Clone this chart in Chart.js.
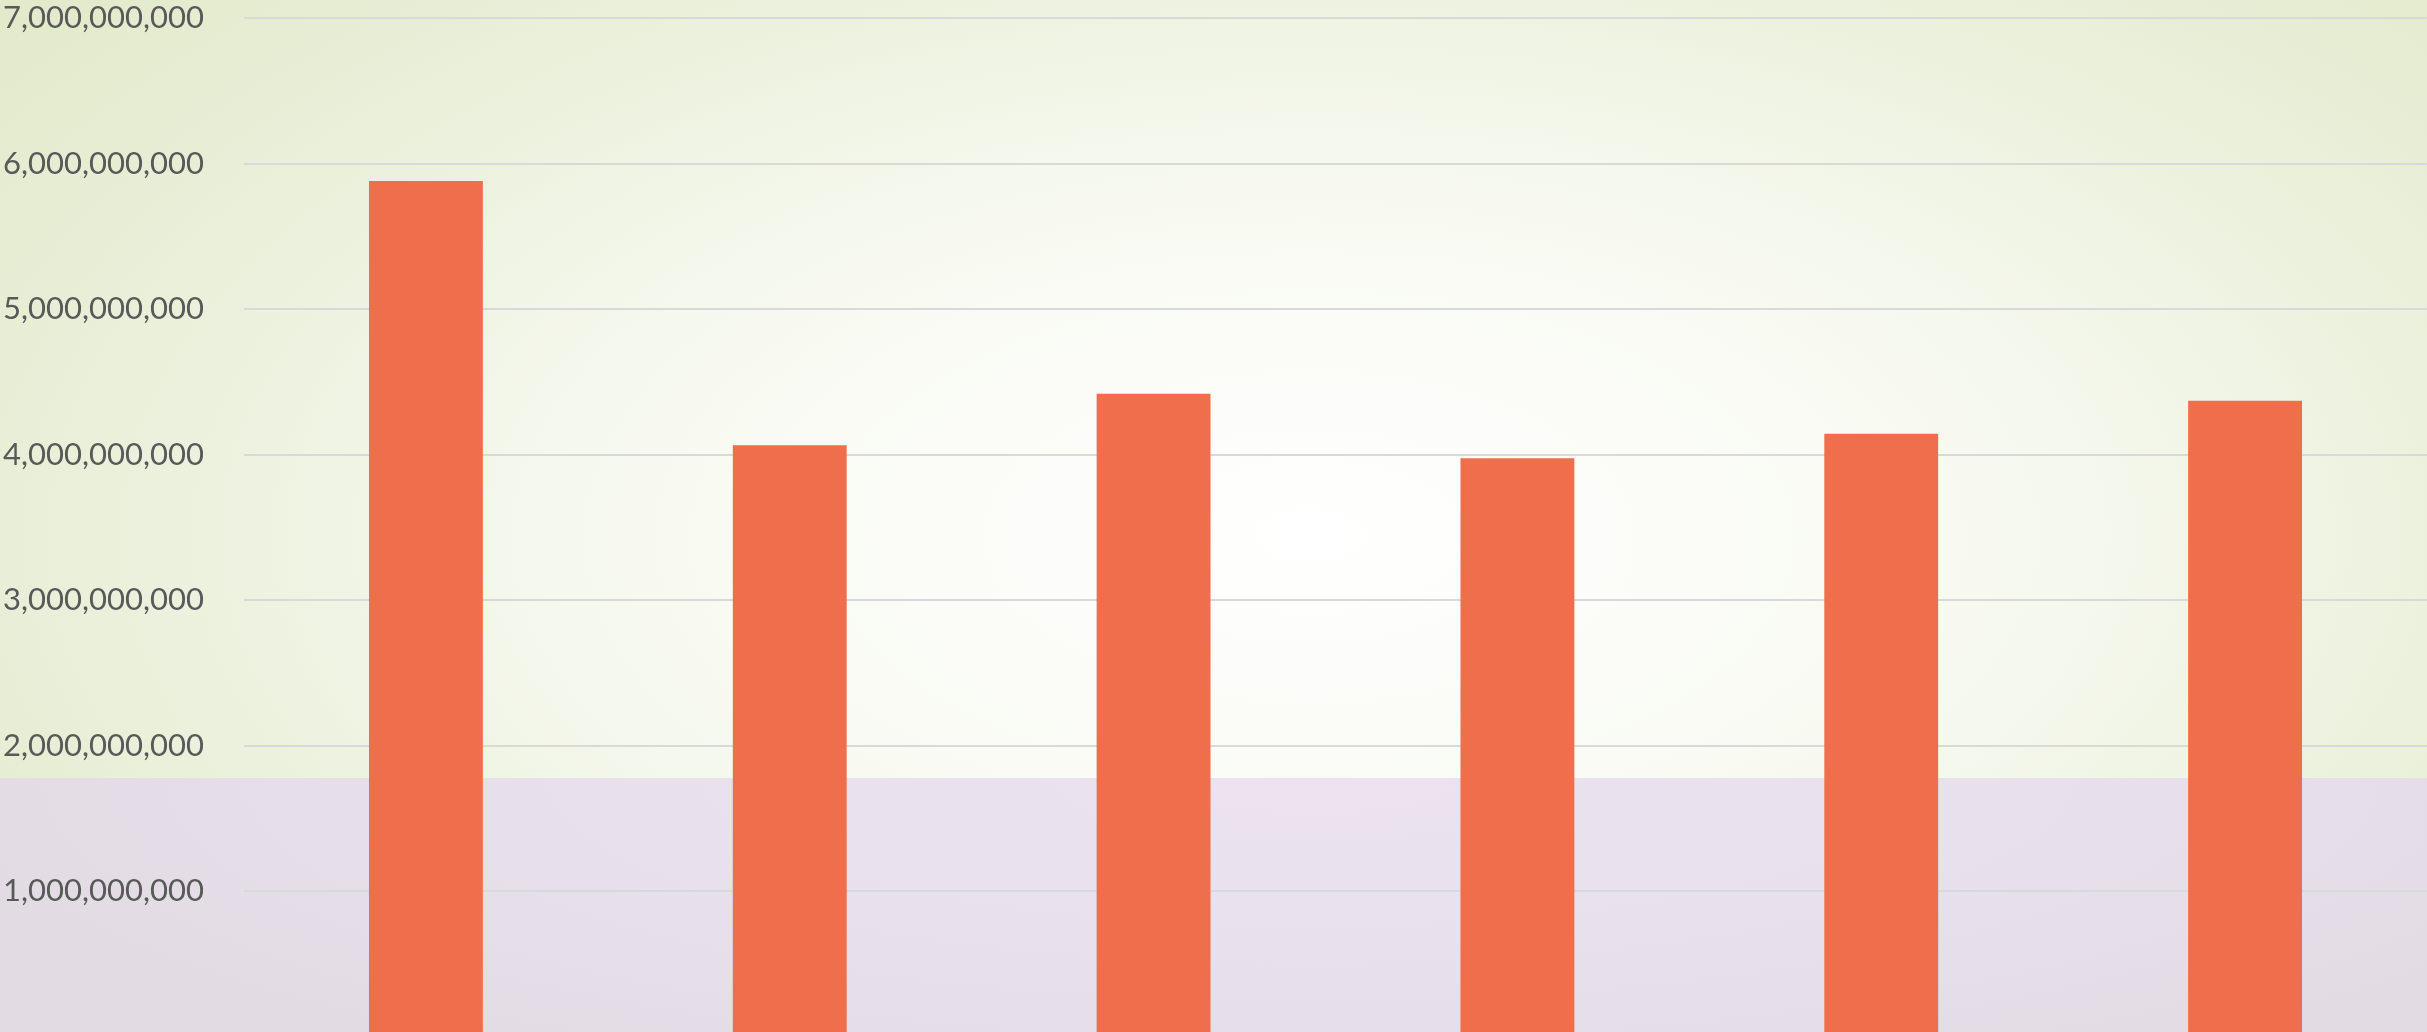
<!DOCTYPE html>
<html>
<head>
<meta charset="utf-8">
<script src="https://cdn.jsdelivr.net/npm/chart.js@4.4.0/dist/chart.umd.min.js"></script>
<style>
  html, body { margin: 0; padding: 0; width: 2427px; height: 1032px; overflow: hidden; }
  .bgTop {
    position: absolute; left: 0; top: 0; width: 2427px; height: 1032px;
    background: radial-gradient(ellipse 75% 90% at 54% 52%, #ffffff 0%, #f8faf2 35%, #e9efd8 70%, #dfe8c5 100%);
  }
  .bgBottom {
    position: absolute; left: 0; top: 778px; width: 2427px; height: 254px;
    background: radial-gradient(ellipse 60% 140% at 54% 0%, #ece2f0 0%, #e8e0ec 50%, #e2dbe3 100%);
  }
  .graphContainer { position: absolute; left: 0; top: 0; }
</style>
</head>
<body>
<div class="bgTop"></div>
<div class="bgBottom"></div>
<div class="graphContainer">
  <canvas id="myChart" width="2427" height="1040"></canvas>
</div>
<script>
// categories are not shown on the picture (axis cut off)
const categories = ['Category 1', 'Category 2', 'Category 3', 'Category 4', 'Category 5', 'Category 6'];
const values = [5880000000, 4063000000, 4418000000, 3974000000, 4143000000, 4370000000];
const yTicks = [0, 1000000000, 2000000000, 3000000000, 4000000000, 5000000000, 6000000000, 7000000000];

const ctx = document.getElementById('myChart').getContext('2d');
const chart = new Chart(ctx, {
  type: 'bar',
  data: {
    labels: categories,
    datasets: [{
      label: 'Values',
      data: values,
      backgroundColor: '#ef6e4b',
      borderWidth: 0,
      barPercentage: 0.313,
      categoryPercentage: 1,
    }],
  },
  options: {
    animation: false,
    responsive: false,
    maintainAspectRatio: false,
    layout: { padding: { top: 18, bottom: 3.5, left: 0, right: 0 } },
    plugins: {
      legend: { display: false },
      title: { display: false },
      tooltip: { enabled: false },
    },
    scales: {
      x: {
        display: false,
        offset: true,
        grid: { display: false },
      },
      y: {
        min: yTicks[0],
        max: yTicks[yTicks.length - 1],
        afterBuildTicks: (scale) => {
          scale.ticks = yTicks.map((v) => ({ value: v }));
        },
        afterFit: (scale) => {
          scale.width = 244;
          scale.paddingTop = 0;
          scale.paddingBottom = 0;
        },
        border: { display: false },
        grid: {
          color: '#d9d9d9',
          lineWidth: 2,
          drawTicks: false,
        },
        ticks: {
          padding: 40,
          color: '#595959',
          font: { family: 'Lato', size: 31 },
          callback: (v) => (v === 0 ? '' : v.toLocaleString('en-US')),
        },
      },
    },
  },
});
</script>
</body>
</html>
